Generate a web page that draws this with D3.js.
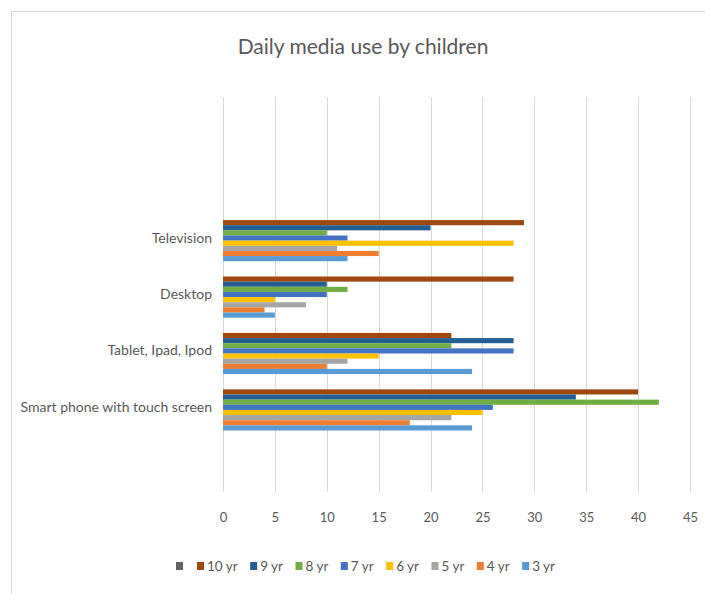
<!DOCTYPE html>
<html>
<head>
<meta charset="utf-8">
<script src="https://cdn.jsdelivr.net/npm/d3@7"></script>
<style>
  body { margin: 0; background: #fff; }
  text { font-family: Lato, "Open Sans", sans-serif; fill: #595959; }
</style>
</head>
<body>
<div id="chart"></div>
<script>
// categories, top to bottom (blank ones are empty slots in the source chart)
var categories = ["", "", "Television", "Desktop", "Tablet, Ipad, Ipod", "Smart phone with touch screen", ""];

// series, top to bottom inside each group
var seriesNames = ["", "10 yr", "9 yr", "8 yr", "7 yr", "6 yr", "5 yr", "4 yr", "3 yr"];
var seriesColors = ["#636363", "#9E480E", "#255E91", "#70AD47", "#4472C4", "#FFC000", "#A5A5A5", "#ED7D31", "#5B9BD5"];

// values per series, in the order Television, Desktop, Tablet, Smart phone
var blank = [0, 0, 0, 0];
var yr10 = [29, 28, 22, 40];
var yr9 = [20, 10, 28, 34];
var yr8 = [10, 12, 22, 42];
var yr7 = [12, 10, 28, 26];
var yr6 = [28, 5, 15, 25];
var yr5 = [11, 8, 12, 22];
var yr4 = [15, 4, 10, 18];
var yr3 = [12, 5, 24, 24];
var seriesValues = [blank, yr10, yr9, yr8, yr7, yr6, yr5, yr4, yr3];
var filled = ["Television", "Desktop", "Tablet, Ipad, Ipod", "Smart phone with touch screen"];

var xTicks = [0, 5, 10, 15, 20, 25, 30, 35, 40, 45];

var width = 705, height = 594;
var plot = { left: 223, right: 690, top: 97, bottom: 492 };

var svg = d3.select('#chart')
    .append('svg')
    .attr('width', width)
    .attr('height', height);

// chart border
svg.append('rect')
    .attr('x', 11.5).attr('y', 11.5)
    .attr('width', width).attr('height', height)
    .attr('fill', 'none')
    .attr('stroke', '#d9d9d9');

svg.append('text')
    .attr('x', 363)
    .attr('y', 54)
    .attr('text-anchor', 'middle')
    .style('font-size', '21px')
    .text('Daily media use by children');

// scales
var xScale = d3.scaleLinear()
    .domain([0, 45])
    .range([plot.left, plot.right]);

var yScale = d3.scaleBand()
    .domain(d3.range(categories.length))
    .range([plot.top, plot.bottom])
    .paddingInner(0.18)
    .paddingOuter(0.09);

var inner = d3.scaleBand()
    .domain(d3.range(seriesNames.length))
    .range([0, yScale.bandwidth()]);

// gridlines
svg.append('g')
    .selectAll('line')
    .data(xTicks)
    .enter()
    .append('line')
    .attr('x1', d => Math.round(xScale(d)) + 0.5)
    .attr('x2', d => Math.round(xScale(d)) + 0.5)
    .attr('y1', plot.top)
    .attr('y2', plot.bottom)
    .attr('stroke', '#d9d9d9')
    .attr('stroke-width', 1);

// x axis labels
var xAxis = d3.axisBottom(xScale).tickValues(xTicks).tickSize(0).tickPadding(0);
var xg = svg.append('g')
    .attr('transform', `translate(0, ${plot.bottom + 21})`)
    .call(xAxis);
xg.select('.domain').remove();
xg.selectAll('text')
    .style('font-size', '13px')
    .attr('fill', '#595959');

// category labels
var yAxis = d3.axisLeft(yScale).tickSize(0).tickPadding(11).tickFormat(i => categories[i]);
var yg = svg.append('g')
    .attr('transform', `translate(${plot.left}, 0)`)
    .call(yAxis);
yg.select('.domain').remove();
yg.selectAll('text')
    .style('font-size', '14px')
    .attr('fill', '#595959');

// bars
seriesValues.forEach(function(vals, s) {
    svg.append('g')
        .selectAll('rect')
        .data(vals)
        .enter()
        .append('rect')
        .attr('x', xScale(0))
        .attr('y', (d, i) => yScale(categories.indexOf(filled[i])) + inner(s))
        .attr('width', d => xScale(d) - xScale(0))
        .attr('height', inner.bandwidth())
        .attr('fill', seriesColors[s]);
});

// legend
var legend = svg.append('g');
var lx = 0;
seriesNames.forEach(function(name, s) {
    var item = legend.append('g').attr('transform', `translate(${lx}, 0)`);
    item.append('rect')
        .attr('x', 0).attr('y', -4)
        .attr('width', 7).attr('height', 8)
        .attr('fill', seriesColors[s]);
    var t = item.append('text')
        .attr('x', 10)
        .attr('y', 5)
        .style('font-size', '13.5px')
        .text(name);
    var tw = name ? t.node().getComputedTextLength() : 0;
    lx += name ? 10 + tw + 12.5 : 21;
});
legend.attr('transform', `translate(${176}, 566)`);
</script>
</body>
</html>
